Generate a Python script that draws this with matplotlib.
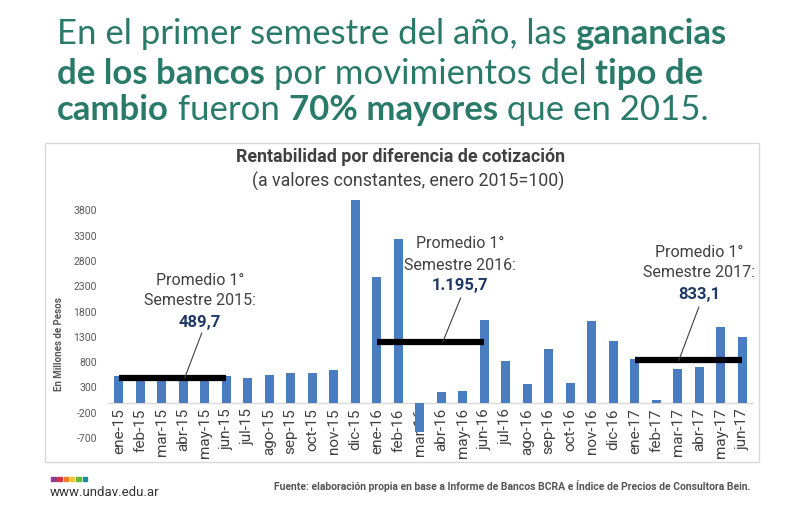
import matplotlib
matplotlib.use('Agg')
import matplotlib.pyplot as plt
from matplotlib.patches import Rectangle
import numpy as np

# ---------------- data ----------------
months = ['ene-15', 'feb-15', 'mar-15', 'abr-15', 'may-15', 'jun-15',
          'jul-15', 'ago-15', 'sep-15', 'oct-15', 'nov-15', 'dic-15',
          'ene-16', 'feb-16', 'mar-16', 'abr-16', 'may-16', 'jun-16',
          'jul-16', 'ago-16', 'sep-16', 'oct-16', 'nov-16', 'dic-16',
          'ene-17', 'feb-17', 'mar-17', 'abr-17', 'may-17', 'jun-17']
values = [524, 500, 485, 475, 425, 530,
          478, 537, 590, 588, 642, 4000,
          2486, 3237, -577, 214, 234, 1630,
          827, 372, 1064, 392, 1611, 1222,
          853, 43, 655, 708, 1486, 1294]
prom_values = [489.7, 1195.7, 833.1]
prom_labels = ['489,7', '1.195,7', '833,1']
prom_years = ['2015', '2016', '2017']
prom_start = ['ene-15', 'ene-16', 'ene-17']
prom_end = ['jun-15', 'jun-16', 'jun-17']
yticks = [-700, -200, 300, 800, 1300, 1800, 2300, 2800, 3300, 3800]

# ---------------- style ----------------
W, H = 800, 520
fig = plt.figure(figsize=(W / 100, H / 100), dpi=100)
fig.patch.set_facecolor('white')

COND = ['Liberation Sans Narrow', 'Roboto', 'DejaVu Sans']
ROB = ['Roboto', 'DejaVu Sans']
TEAL = '#2a7a6a'
BAR = '#4a7dbf'
GRAY = '#404040'
NAVY = '#1f3864'

def fx(px):
    return px / W

def fy(py):
    return 1 - py / H

# chart frame
fig.add_artist(Rectangle((fx(45), fy(462)), fx(759) - fx(45), fy(143) - fy(462),
                         transform=fig.transFigure, fill=False,
                         edgecolor='#d9d9d9', linewidth=1.0))

# axes: x from 108 to 753 px, y from 185 to 438 px
ax = fig.add_axes([fx(108), fy(438), fx(753) - fx(108), fy(185) - fy(438)])
ax.set_facecolor('none')
x = np.arange(len(months))
ax.bar(x, values, width=0.4, color=BAR, zorder=3)
ax.set_xlim(-0.5, len(months) - 0.5)
ax.set_ylim(-700, 4300)

for s in ['top', 'right', 'left']:
    ax.spines[s].set_visible(False)
ax.spines['bottom'].set_position(('data', 0))
ax.spines['bottom'].set_color('#d9d9d9')
ax.spines['bottom'].set_linewidth(1.0)
ax.spines['bottom'].set_zorder(2)

ax.set_xticks(x)
ax.set_xticklabels(months, rotation=90, fontsize=11, color=GRAY,
                   family=ROB)
ax.tick_params(axis='x', length=0, pad=4)
ax.set_yticks(yticks)
ax.set_yticklabels([str(v) for v in yticks], fontsize=7.5, color='#595959',
                   family=ROB)
ax.tick_params(axis='y', length=0, pad=8)

ax.text(-0.076, 0.37, 'En Millones de Pesos', transform=ax.transAxes,
        rotation=90, ha='center', va='center', fontsize=7,
        color='#595959', family=ROB, fontweight='bold')

# average lines & annotations
txt_x = [3.77, 15.86, 27.0]
txt_y = [(2421, 2026, 1591), (3152, 2717, 2322), (2974, 2579, 2144)]
leader_from = [(3.86, 1374), (15.9, 2065), (26.98, 1887)]
leader_to_x = [3.07, 15.07, 26.05]
for i in range(3):
    i0 = months.index(prom_start[i])
    i1 = months.index(prom_end[i])
    ax.plot([i0, i1], [prom_values[i], prom_values[i]], color='black',
            linewidth=4.5, solid_capstyle='butt', zorder=4)
    ax.plot([leader_from[i][0], leader_to_x[i]],
            [leader_from[i][1], prom_values[i]], color='#404040',
            linewidth=0.8, zorder=4)
    tx = txt_x[i]
    y1, y2, y3 = txt_y[i]
    ax.text(tx, y1, 'Promedio 1°', ha='center', va='center', fontsize=11.5,
            color=GRAY, family=ROB, zorder=5)
    ax.text(tx, y2, 'Semestre ' + prom_years[i] + ':', ha='center',
            va='center', fontsize=11.5, color=GRAY, family=ROB, zorder=5)
    ax.text(tx, y3, prom_labels[i], ha='center', va='center',
            fontsize=12, color=NAVY, family=ROB, fontweight='bold', zorder=5)

# chart title
fig.text(fx(401), fy(157), 'Rentabilidad por diferencia de cotización',
         ha='center', va='center', fontsize=12.8, fontweight='bold',
         color=GRAY, family=COND)
fig.text(fx(408), fy(181), '(a valores constantes, enero 2015=100)',
         ha='center', va='center', fontsize=12.8, color=GRAY, family=COND)

# headline with mixed weights
HEAD = ['Lato', 'DejaVu Sans']
lines = [
    [('En el primer semestre del año, las ', 'normal'), ('ganancias', 'bold')],
    [('de los bancos', 'bold'), (' por movimientos del ', 'normal'), ('tipo de', 'bold')],
    [('cambio', 'bold'), (' fueron ', 'normal'), ('70% mayores', 'bold'), (' que en 2015.', 'normal')],
]
line_y = [fy(44), fy(84), fy(120)]
hsize = 25
renderer = fig.canvas.get_renderer()
for li, parts in enumerate(lines):
    prev = None
    for txt, wt in parts:
        if prev is None:
            t = fig.text(fx(57), line_y[li], txt, fontsize=hsize,
                         fontweight=wt, color=TEAL, family=HEAD,
                         ha='left', va='baseline')
        else:
            t = fig.text(0, 0, txt, fontsize=hsize, fontweight=wt,
                         color=TEAL, family=HEAD, ha='left', va='baseline')
            bb = prev.get_window_extent(renderer)
            x0 = bb.x1 / fig.bbox.width
            t.set_position((x0, line_y[li]))
        prev = t

# footer
dots = ['#8e3b8a', '#d6324a', '#ef7d22', '#f2c12e', '#6db33f', '#1b8a9a']
for k, c in enumerate(dots):
    fig.add_artist(Rectangle((fx(51 + k * 6.3), fy(481)), 4.5 / W, 4.5 / H,
                             transform=fig.transFigure, color=c))
fig.text(fx(50), fy(493), 'www.undav.edu.ar', ha='left', va='center',
         fontsize=9.5, color='#333333', family=ROB)
fig.text(fx(750), fy(486),
         'Fuente: elaboración propia en base a Informe de Bancos BCRA e Índice de Precios de Consultora Bein.',
         ha='right', va='center', fontsize=7.5, color='#555555',
         family=COND, fontweight='bold')

fig.savefig('out.png', dpi=100, facecolor='white')
